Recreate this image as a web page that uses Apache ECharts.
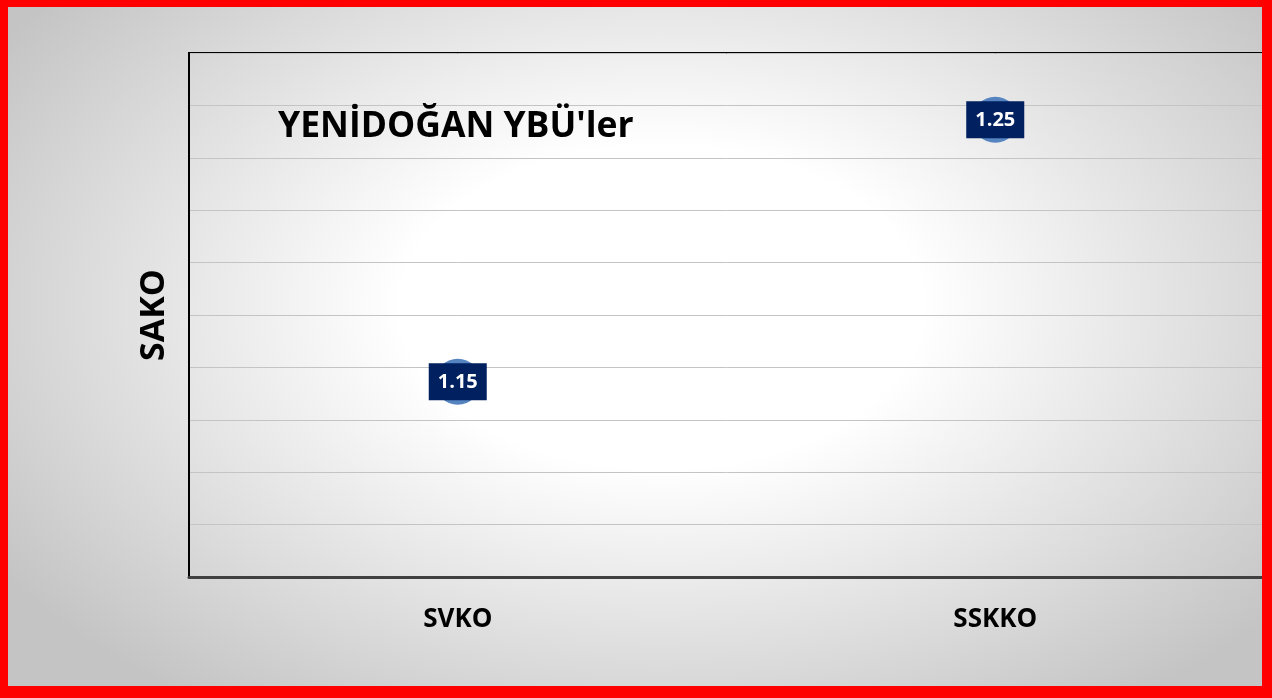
<!DOCTYPE html>
<html><head><meta charset="utf-8">
<script src="https://cdn.jsdelivr.net/npm/echarts@6/dist/echarts.min.js"></script>
<style>
html,body{margin:0;padding:0;}
#wrap{position:relative;width:1272px;height:698px;background:radial-gradient(ellipse 62% 70% at 52% 44%, #ffffff 0%, #ffffff 33%, #c4c4c4 100%);}
#c{position:absolute;left:0;top:0;width:1272px;height:698px;}
#frame{position:absolute;left:0;top:0;width:1272px;height:698px;box-sizing:border-box;border-style:solid;border-color:#ff0000;border-width:7px 10px 12px 8px;pointer-events:none;}
</style></head>
<body>
<div id="wrap"><div id="c"></div><div id="frame"></div></div>
<script>
const categories = ['SVKO', 'SSKKO'];
const values = [1.1545, 1.2545];
const chartTitle = "YENİDOĞAN YBÜ'ler";
const yTitle = 'SAKO';

const chart = echarts.init(document.getElementById('c'), null, {renderer: 'canvas'});
chart.setOption({
  backgroundColor: 'transparent',
  animation: false,
  title: {
    text: chartTitle, left: 273, top: 104,
    textStyle: {fontFamily: 'Open Sans', fontWeight: 'bold', fontSize: 35.5, color: '#000'}
  },
  grid: {left: 189, right: 8, top: 53, bottom: 121, show: true, borderColor: '#000', borderWidth: 2, backgroundColor: 'transparent'},
  xAxis: {
    type: 'category', data: categories, boundaryGap: true,
    axisLine: {lineStyle: {color: '#404040', width: 3}},
    axisTick: {show: false},
    axisLabel: {margin: 30, fontFamily: 'Open Sans', fontWeight: 'bold', fontSize: 26, color: '#000'}
  },
  yAxis: {
    type: 'value', min: 1.08, max: 1.28, interval: 0.02,
    name: yTitle, nameLocation: 'middle', nameRotate: 90, nameGap: 18,
    nameTextStyle: {fontFamily: 'Open Sans', fontWeight: 'bold', fontSize: 34, color: '#000'},
    axisLine: {show: true, lineStyle: {color: '#000', width: 2}},
    axisTick: {show: false},
    axisLabel: {show: false},
    splitLine: {lineStyle: {color: '#c4c4c4', width: 1}}
  },
  series: [{
    type: 'scatter', data: values, symbol: 'circle', symbolSize: 46,
    itemStyle: {color: '#5584c0', opacity: 1},
    label: {
      show: true, position: 'inside',
      formatter: p => p.value.toFixed(2),
      backgroundColor: '#002060', color: '#fff', opacity: 1,
      fontFamily: 'Open Sans', fontWeight: 'bold', fontSize: 20,
      padding: [9, 9, 8, 9]
    }
  }]
});
</script>
</body></html>
